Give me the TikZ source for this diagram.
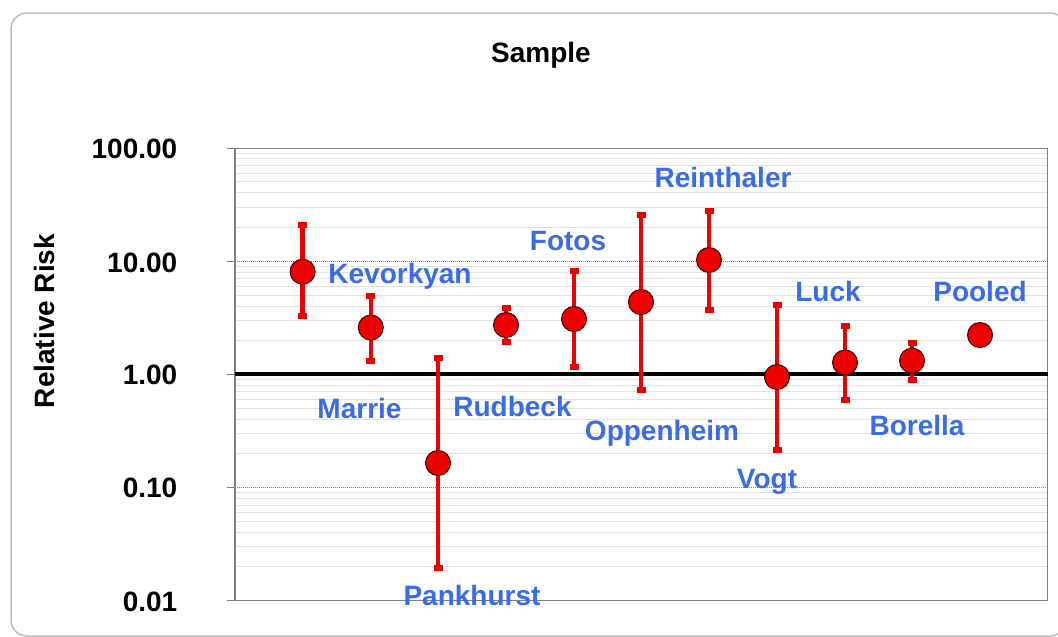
\documentclass[tikz,border=0pt]{standalone}
\usepackage{fontspec}
\setmainfont{Liberation Sans}
\definecolor{lblblue}{RGB}{58,108,232}
\definecolor{ptred}{RGB}{236,0,0}
\definecolor{minorgrid}{RGB}{226,226,226}
\definecolor{majorgrid}{RGB}{130,130,130}
\definecolor{frame}{RGB}{128,128,128}
\definecolor{outer}{RGB}{190,190,190}
\begin{document}
\begin{tikzpicture}[x=1pt,y=-1pt,
  bigfont/.style={font=\fontsize{28}{30}\selectfont\bfseries},
  lbl/.style={bigfont, text=lblblue, inner sep=0pt, anchor=base},
  ticklbl/.style={bigfont, anchor=base east, inner sep=0pt},
  pt/.style={circle, fill=ptred, draw=black!75!red, line width=1pt, minimum size=25pt, inner sep=0pt},
  whisk/.style={draw=ptred, line width=4.5pt},
  minorline/.style={draw=minorgrid, line width=1pt},
  majorline/.style={draw=majorgrid, line width=1pt, dash pattern=on 1pt off 1pt}
]
\useasboundingbox (0,0) rectangle (1058,637);
\fill[white] (0,0) rectangle (1058,637);
% outer frame
\draw[outer, line width=1.5pt, rounded corners=16pt] (11,13) rectangle (1066,636);

% plot area corners
\coordinate (pl) at (235,148.3);
\coordinate (pr) at (1047.5,600.7);

% minor gridlines
\foreach \d in {-2,-1,0,1}{
  \foreach \m in {2,...,9}{
    \pgfmathsetmacro{\yy}{374.3-113.2*(\d+ln(\m)/ln(10))}
    \draw[minorline] (235,\yy) -- (1047.5,\yy);
  }
}
% major gridlines and ticks
\foreach \yy in {261.7,487.6}{
  \draw[majorline] (235,\yy) -- (1047.5,\yy);
}
\foreach \yy/\t in {148.3/100.00,261.7/10.00,374.3/1.00,487.6/0.10,600.7/0.01}{
  \draw[frame, line width=1.2pt] (226.5,\yy) -- (235,\yy);
  \node[ticklbl] at (177.5,\yy+10.3) {\t};
}
% plot frame
\draw[frame, line width=1.3pt] (pl) rectangle (pr);
% reference line at 1
\coordinate (oneL) at (235,374.3);
\coordinate (oneR) at (1047.5,374.3);
\draw[black, line width=4pt] (oneL) -- (oneR);

% title and axis label
\node[bigfont, anchor=base, inner sep=0pt] (title) at (541,62) {Sample};
\node[bigfont, anchor=base, rotate=90, inner sep=0pt] (ylab) at (54.5,321) {Relative Risk};

% data: name/x/top/center/bottom
\foreach \n/\x/\t/\c/\b in {
  kev/302.6/224.5/271.7/315.5,
  mar/370.8/296/327.5/360.5,
  pan/438/358/463/567.5,
  rud/506/307.5/325/341.5,
  fot/574/271/319/366.7,
  opp/641/214.5/302/389.5,
  rei/709/211/260/309.5,
  vog/777/305/377/449.5,
  luc/845/326/362.5/399.5,
  bor/912/342.5/360.7/379.5}{
  \coordinate (\n-t) at (\x,\t);
  \coordinate (\n-b) at (\x,\b);
  \draw[whisk] (\n-t) -- (\n-b);
  \fill[ptred, shift={(\n-t)}] (-4.5,-3) rectangle (4.5,3);
  \fill[ptred, shift={(\n-b)}] (-4.5,-3) rectangle (4.5,3);
  \node[pt] (\n) at (\x,\c) {};
}
\node[pt] (poo) at (980,335) {};

% study labels
\node[lbl] (lkev) at (400,283) {Kevorkyan};
\node[lbl] (lmar) at (359.5,418) {Marrie};
\node[lbl] (lpan) at (472,605) {Pankhurst};
\node[lbl] (lrud) at (512.5,416.7) {Rudbeck};
\node[lbl] (lfot) at (568,250) {Fotos};
\node[lbl] (lopp) at (662,440.5) {Oppenheim};
\node[lbl] (lrei) at (723,187) {Reinthaler};
\node[lbl] (lvog) at (767,488.5) {Vogt};
\node[lbl] (lluc) at (828,301) {Luck};
\node[lbl] (lbor) at (917,435) {Borella};
\node[lbl] (lpoo) at (980,301) {Pooled};
\end{tikzpicture}
\end{document}
